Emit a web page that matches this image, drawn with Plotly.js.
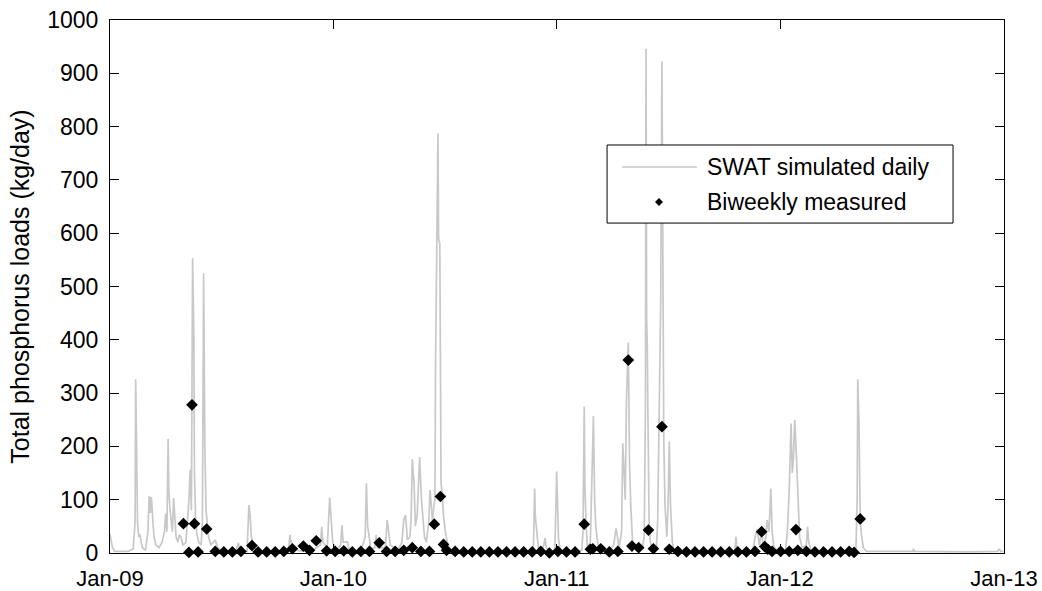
<!DOCTYPE html>
<html>
<head>
<meta charset="utf-8">
<script src="https://cdn.plot.ly/plotly-3.0.1.min.js"></script>
<style>html,body{margin:0;padding:0;background:#fff;}#chart{width:1042px;height:591px;}</style>
</head>
<body>
<div id="chart"></div>
<script>
// ---- Data ----
const tickDates = ['2009-01-01','2010-01-01','2011-01-01','2012-01-01','2013-01-01'];
const tickLabels = ['Jan-09','Jan-10','Jan-11','Jan-12','Jan-13'];
const yTicks = [0,100,200,300,400,500,600,700,800,900,1000];

// SWAT simulated daily load (kg/day)
const simDates = [
'2009-01-01','2009-01-03','2009-01-05','2009-01-09','2009-01-31','2009-02-08','2009-02-11','2009-02-12','2009-02-13','2009-02-14',
'2009-02-15','2009-02-17','2009-02-19','2009-02-21','2009-02-23','2009-02-28','2009-03-04','2009-03-06','2009-03-08','2009-03-09',
'2009-03-10','2009-03-12','2009-03-14','2009-03-17','2009-03-22','2009-03-27','2009-03-31','2009-04-02','2009-04-04','2009-04-06',
'2009-04-07','2009-04-09','2009-04-11','2009-04-13','2009-04-15','2009-04-17','2009-04-19','2009-04-22','2009-04-24','2009-04-27',
'2009-04-30','2009-05-05','2009-05-08','2009-05-10','2009-05-12','2009-05-14','2009-05-16','2009-05-18','2009-05-19','2009-05-21',
'2009-05-23','2009-05-26','2009-05-30','2009-06-01','2009-06-03','2009-06-05','2009-06-07','2009-06-09','2009-06-11','2009-06-15',
'2009-06-22','2009-06-26','2009-07-05','2009-07-25','2009-07-30','2009-08-01','2009-08-13','2009-08-16','2009-08-18','2009-08-20',
'2009-08-23','2009-08-27','2009-09-18','2009-10-06','2009-10-10','2009-10-13','2009-10-20','2009-10-22','2009-10-24','2009-10-28',
'2009-11-07','2009-11-27','2009-12-11','2009-12-13','2009-12-15','2009-12-22','2009-12-26','2009-12-28','2009-12-29','2009-12-31',
'2010-01-06','2010-01-13','2010-01-15','2010-01-17','2010-01-24','2010-01-27','2010-02-15','2010-02-22','2010-02-24','2010-02-26',
'2010-02-28','2010-03-03','2010-03-10','2010-03-12','2010-03-14','2010-03-27','2010-03-30','2010-04-01','2010-04-04','2010-04-16',
'2010-04-23','2010-04-26','2010-04-29','2010-05-02','2010-05-06','2010-05-08','2010-05-10','2010-05-13','2010-05-15','2010-05-18',
'2010-05-20','2010-05-22','2010-05-25','2010-05-27','2010-05-30','2010-06-02','2010-06-06','2010-06-08','2010-06-10','2010-06-12',
'2010-06-14','2010-06-16','2010-06-17','2010-06-19','2010-06-21','2010-06-22','2010-06-24','2010-06-26','2010-06-28','2010-06-30',
'2010-07-03','2010-07-07','2010-07-13','2010-08-04','2010-10-03','2010-11-12','2010-11-24','2010-11-26','2010-11-27','2010-11-29',
'2010-12-02','2010-12-08','2010-12-11','2010-12-13','2010-12-15','2010-12-22','2010-12-29','2011-01-01','2011-01-02','2011-01-04',
'2011-01-07','2011-01-31','2011-02-11','2011-02-13','2011-02-15','2011-02-16','2011-02-18','2011-02-20','2011-02-25','2011-02-27',
'2011-03-02','2011-03-04','2011-03-06','2011-03-09','2011-03-12','2011-03-27','2011-04-04','2011-04-08','2011-04-10','2011-04-13',
'2011-04-17','2011-04-19','2011-04-21','2011-04-23','2011-04-25','2011-04-28','2011-04-30','2011-05-02','2011-05-05','2011-05-11',
'2011-05-21','2011-05-24','2011-05-26','2011-05-27','2011-05-28','2011-05-29','2011-05-30','2011-06-01','2011-06-03','2011-06-07',
'2011-06-13','2011-06-15','2011-06-17','2011-06-20','2011-06-22','2011-06-25','2011-06-27','2011-06-30','2011-07-02','2011-07-04',
'2011-07-06','2011-07-09','2011-07-12','2011-08-19','2011-09-28','2011-10-19','2011-10-21','2011-10-23','2011-11-17','2011-11-20',
'2011-11-22','2011-11-25','2011-11-28','2011-12-02','2011-12-05','2011-12-09','2011-12-11','2011-12-14','2011-12-17','2011-12-19',
'2011-12-22','2012-01-01','2012-01-10','2012-01-13','2012-01-16','2012-01-19','2012-01-21','2012-01-23','2012-01-25','2012-01-28',
'2012-01-30','2012-02-02','2012-02-06','2012-02-13','2012-02-15','2012-02-17','2012-02-21','2012-04-15','2012-05-04','2012-05-06',
'2012-05-07','2012-05-09','2012-05-11','2012-05-13','2012-05-16','2012-05-21','2012-07-24','2012-08-05','2012-08-06','2012-08-08',
'2012-11-01','2012-12-22','2012-12-24','2012-12-27','2012-12-31'
];
const simValues = [
35,25,10,3,3,8,60,326,250,120,
56,30,35,20,10,5,40,107,75,105,
100,60,30,15,10,20,40,74,40,214,
120,82,60,40,103,60,30,20,34,30,
15,20,60,100,156,80,553,412,150,60,
35,20,15,60,525,197,80,50,30,15,
25,10,4,3,19,5,3,90,70,30,
20,5,3,3,10,3,5,34,20,8,
4,4,15,49,20,10,104,70,56,20,
5,15,52,20,21,5,4,30,131,50,
36,8,10,34,10,10,62,45,15,5,
20,62,71,25,30,60,176,128,50,70,
120,180,100,70,30,20,60,118,85,60,
85,100,350,580,787,590,580,131,110,70,
40,15,5,3,3,2,10,121,70,43,
10,4,15,28,10,3,5,153,81,25,
5,3,5,40,275,131,56,10,20,128,
257,100,47,20,5,3,15,46,30,10,
40,206,155,100,287,395,171,90,20,5,
10,30,270,946,437,394,268,60,20,8,
10,60,221,471,922,209,90,30,90,209,
90,20,5,3,2,3,31,3,3,20,
34,45,15,40,10,30,62,40,121,40,
10,3,5,40,118,243,150,180,250,174,
100,30,10,15,49,20,3,2,3,100,
326,246,60,35,10,3,2,3,8,3,
2,3,8,3,3
];

// Biweekly measured load (kg/day)
const measDates = [
'2009-05-01','2009-05-10','2009-05-15','2009-05-19','2009-05-25','2009-06-08','2009-06-22','2009-07-06','2009-07-20','2009-08-03',
'2009-08-21','2009-08-31','2009-09-14','2009-09-28','2009-10-12','2009-10-26','2009-11-13','2009-11-23','2009-12-04','2009-12-21',
'2010-01-04','2010-01-18','2010-02-01','2010-02-15','2010-03-01','2010-03-17','2010-03-29','2010-04-12','2010-04-26','2010-05-10',
'2010-05-24','2010-06-07','2010-06-15','2010-06-25','2010-06-30','2010-07-05','2010-07-19','2010-08-02','2010-08-16','2010-08-30',
'2010-09-13','2010-09-27','2010-10-11','2010-10-25','2010-11-08','2010-11-22','2010-12-06','2010-12-20','2011-01-03','2011-01-17',
'2011-01-31','2011-02-15','2011-02-25','2011-03-01','2011-03-14','2011-03-28','2011-04-11','2011-04-28','2011-05-04','2011-05-15',
'2011-05-31','2011-06-08','2011-06-22','2011-07-04','2011-07-18','2011-08-01','2011-08-15','2011-08-29','2011-09-12','2011-09-26',
'2011-10-10','2011-10-24','2011-11-07','2011-11-21','2011-12-02','2011-12-07','2011-12-12','2011-12-19','2012-01-02','2012-01-16',
'2012-01-27','2012-01-30','2012-02-13','2012-02-27','2012-03-12','2012-03-26','2012-04-09','2012-04-23','2012-05-01','2012-05-11'
];
const measValues = [
55,1,278,55,2,45,3,2,2,3,
14,2,2,2,3,8,13,5,23,4,
3,4,2,3,3,19,3,3,5,10,
3,3,54,106,16,5,3,2,2,2,
2,2,2,2,2,2,3,0,3,2,
2,54,7,8,8,2,3,362,13,10,
43,8,237,7,3,2,2,2,2,2,
2,2,2,3,40,12,7,3,3,3,
44,5,3,2,2,2,2,3,1,64
];

const FONT = 'Liberation Sans, Arial, sans-serif';
const FS = 23;
const traces = [
  {type:'scatter', mode:'lines', name:'SWAT simulated daily', x: simDates, y: simValues,
   line:{color:'#c8c8c8', width:1.7}, showlegend:false, hoverinfo:'x+y'},
  {type:'scatter', mode:'markers', name:'Biweekly measured', x: measDates, y: measValues,
   marker:{symbol:'diamond', size:9, color:'#000'}, cliponaxis:false, showlegend:false}
];

// legend geometry in paper coordinates
const lgBox = {x0:0.556, x1:0.943, y0:0.619, y1:0.7655};
const lgRow1 = 0.7242, lgRow2 = 0.6585;

const layout = {
  width:1042, height:591,
  margin:{l:110, r:38, t:20, b:38, pad:0},
  paper_bgcolor:'#fff', plot_bgcolor:'#fff',
  font:{family:FONT, size:FS, color:'#000'},
  showlegend:false,
  xaxis:{
    type:'date', range:['2009-01-01','2013-01-01'],
    tickmode:'array', tickvals:tickDates, ticktext:tickLabels,
    ticks:'inside', ticklen:9, tickcolor:'#000', tickwidth:1,
    showline:true, linecolor:'#000', linewidth:1, mirror:'ticks',
    showgrid:false, zeroline:false, ticklabelstandoff:6,
    tickfont:{family:FONT, size:22, color:'#000'}
  },
  yaxis:{
    range:[0,1000], tickmode:'array', tickvals:yTicks,
    ticks:'inside', ticklen:9, tickcolor:'#000', tickwidth:1,
    showline:true, linecolor:'#000', linewidth:1, mirror:'ticks',
    showgrid:false, zeroline:false, ticklabelstandoff:6,
    tickfont:{family:FONT, size:FS, color:'#000'},
    title:{text:'Total phosphorus loads (kg/day)', font:{family:FONT, size:25, color:'#000'}, standoff:10}
  },
  shapes:[
    {type:'rect', xref:'paper', yref:'paper', x0:lgBox.x0, x1:lgBox.x1, y0:lgBox.y0, y1:lgBox.y1,
     line:{color:'#000', width:1}, fillcolor:'#fff', layer:'above'},
    {type:'line', xref:'paper', yref:'paper', x0:0.5727, x1:0.6566, y0:lgRow1, y1:lgRow1,
     line:{color:'#c8c8c8', width:1.5}, layer:'above'},
    {type:'path', xref:'paper', yref:'paper', xsizemode:'pixel', ysizemode:'pixel',
     xanchor:0.6141, yanchor:lgRow2, path:'M0,4 L4,0 L0,-4 L-4,0 Z',
     fillcolor:'#000', line:{color:'#000', width:0}, layer:'above'}
  ],
  annotations:[
    {xref:'paper', yref:'paper', x:0.6655, y:lgRow1, xanchor:'left', yanchor:'middle', showarrow:false,
     text:'SWAT simulated daily', font:{family:FONT, size:FS, color:'#000'}},
    {xref:'paper', yref:'paper', x:0.6655, y:lgRow2, xanchor:'left', yanchor:'middle', showarrow:false,
     text:'Biweekly measured', font:{family:FONT, size:FS, color:'#000'}}
  ]
};

Plotly.newPlot('chart', traces, layout, {displayModeBar:false, staticPlot:true});
</script>
</body>
</html>
